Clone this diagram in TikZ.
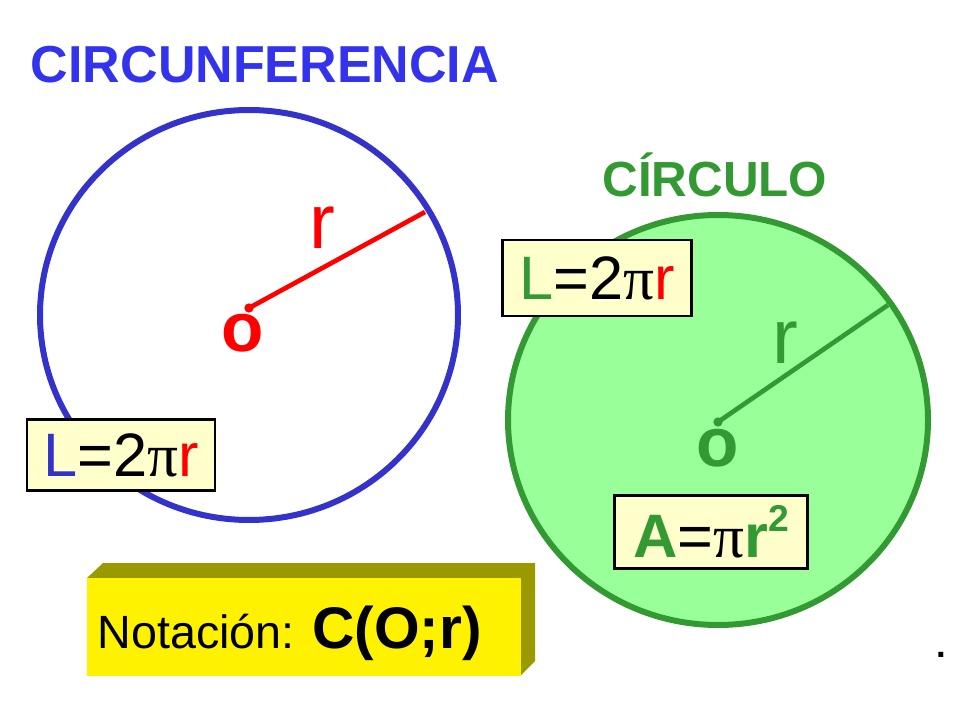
\documentclass[tikz,border=0pt]{standalone}
\usepackage{fontspec}
\setmainfont{Liberation Sans}
\newfontfamily\pif{Liberation Serif}
\newcommand{\ppi}{{\pif π}}
\definecolor{bl}{HTML}{3333CC}
\definecolor{tb}{HTML}{3333EE}
\definecolor{gr}{HTML}{339933}
\definecolor{gf}{HTML}{99FF99}
\definecolor{rd}{HTML}{FF0000}
\definecolor{by}{HTML}{FFFFCC}
\definecolor{ol}{HTML}{999900}
\begin{document}
\begin{tikzpicture}[x=0.75pt,y=-0.75pt,
  lbl/.style={draw=black,line width=2pt,fill=by,inner sep=0pt,minimum width=#1},
  big/.style={font=\fontsize{46}{48}\selectfont},
  dot/.style={circle,fill,inner sep=0pt,minimum size=7pt}]
\useasboundingbox (0,0) rectangle (960,720);
\node[font=\bfseries\fontsize{39}{42}\selectfont,text=tb] (t1) at (265,65) {CIRCUNFERENCIA};
\draw[bl,line width=4.5pt] (249,315) ellipse (209 and 205);
\node[dot,rd] (o1) at (249,308) {};
\coordinate (e1) at (425,212);
\draw[rd,line width=3.5pt] (o1.center) -- (e1);
\node[font=\fontsize{58}{60}\selectfont,text=rd] (r1) at (322,228) {r};
\node[font=\bfseries\fontsize{52}{54}\selectfont,text=rd] (O1) at (243,333) {o};
\node[lbl=141pt,minimum height=53pt,big] (b1) at (121,455) {\textcolor{bl}{L}=2\ppi\textcolor{rd}{r}};

\node[font=\bfseries\fontsize{37}{40}\selectfont,text=gr] (t2) at (715,175) {CÍRCULO};
\draw[gr,fill=gf,line width=4.5pt] (718,420) ellipse (210 and 205);
\node[dot,gr] (o2) at (718,422) {};
\coordinate (e2) at (888,305);
\draw[gr,line width=3.5pt] (o2.center) -- (e2);
\node[font=\fontsize{58}{60}\selectfont,text=gr] (r2) at (785,343) {r};
\node[font=\bfseries\fontsize{52}{54}\selectfont,text=gr] (O2) at (718,448) {o};
\node[lbl=142pt,minimum height=57pt,big] (b2) at (597,278) {\textcolor{gr}{L}=2\ppi\textcolor{rd}{r}};
\node[lbl=145pt,minimum height=55pt,big] (b3) at (711,532) {\textbf{\textcolor{gr}{A}}=\ppi\textbf{\textcolor{gr}{r\raisebox{0.42em}{\bfseries\fontsize{28}{30}\selectfont 2}}}};

\fill[ol] (87,578) -- (103,563) -- (535,563) -- (535,661) -- (520,676) -- (520,578) -- cycle;
\node[fill=yellow,minimum width=325pt,minimum height=73.5pt,inner sep=0pt,anchor=north west] (nb) at (87,578) {};
\node[anchor=west,font=\fontsize{35}{38}\selectfont] (nt) at (93,633) {Notación: \textbf{\fontsize{44}{46}\selectfont C(O;r)}};
\node[font=\bfseries\fontsize{26}{28}\selectfont] (pt) at (941,655) {.};
\end{tikzpicture}
\end{document}
